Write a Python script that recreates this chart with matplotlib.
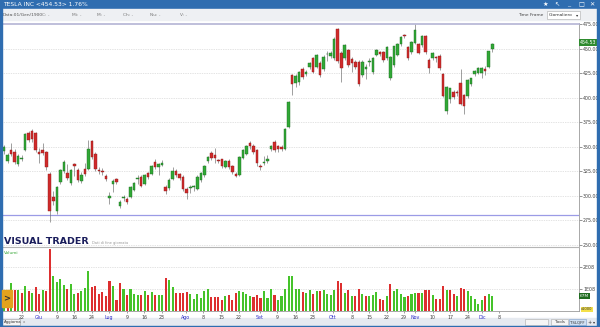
import matplotlib.pyplot as plt
from matplotlib.patches import Rectangle
import numpy as np

# Dati (una candela per seduta)
aperture = [346, 335, 347, 345, 332, 337, 347, 364, 366, 364, 345, 347, 345, 322, 299, 285, 314, 325, 323, 313,
            332, 326, 315, 327, 327, 356, 343, 326.5, 325, 320, 298, 312, 317, 290, 298, 297, 299, 306, 317, 319,
            312, 323, 322, 334, 329, 331, 309, 308, 317, 325, 322, 319.5, 307, 308, 309, 307, 316, 321, 335, 344,
            342, 336, 337, 329, 335.5, 330, 322, 321, 339, 343, 353.5, 351, 347, 330, 333, 335, 348, 355, 351, 350,
            348, 370, 423, 415, 416, 429, 424, 431, 440, 431.5, 435.5, 429, 444, 442.5, 440, 470, 445, 440, 448.5, 439,
            436.5, 436.5, 423, 429, 436.5, 426, 443.5, 446, 446, 440, 420, 433, 443.5, 454.5, 463.5, 452, 446, 456, 455, 454,
            463, 438.5, 440, 440.5, 442.5, 424, 386, 399, 406, 405.5, 414.5, 402.5, 402, 414, 424, 425.5, 425, 429.5, 431.5, 450]
massimi = [352, 344, 354, 348, 343, 342, 364, 366, 368, 365, 349, 354, 346, 324, 305, 310, 327, 336, 332, 327,
           333, 328, 324, 333, 357, 357, 345, 329, 328, 322, 304, 317, 318, 296, 301, 299, 310, 314, 321, 321,
           322, 324, 331, 338, 333, 336, 311, 318, 329, 327, 323, 321, 309, 311, 311, 321, 324, 331, 341, 346,
           349, 338, 338, 336, 337, 331, 324, 341, 348, 352, 356, 353, 348, 332, 341, 342, 352, 357, 352, 352,
           369, 397, 424, 424, 427, 431, 428, 436, 441, 444, 437, 443, 448, 447, 462, 471, 447, 455, 450, 441,
           438, 438, 438, 434, 440, 441, 450, 447, 447, 453, 442, 453, 456, 463, 465, 453, 458, 475, 456, 464,
           464, 440, 446, 442, 444, 425, 412, 410, 408, 408, 429, 404, 419, 420, 428, 431, 431, 432, 448, 456]
minimi = [343, 333, 341, 332, 330, 335, 346, 355, 355, 345, 333, 342, 326, 273, 291, 281, 312, 323, 316, 311,
          320, 314, 313, 320, 326, 338, 325, 322, 321, 315, 292, 304, 312, 288, 295, 292, 298, 305, 312, 309,
          311, 317, 321, 327, 321, 330, 302, 306, 316, 319, 316, 305, 297, 303, 305, 306, 314, 319, 333, 336,
          333, 333, 328, 328, 327, 322, 319, 320, 338, 342, 348, 343, 330, 326, 331, 333, 346, 345, 345, 346,
          347, 369, 403, 411, 413, 419, 422, 429, 425, 430, 421, 427, 437, 440, 438, 435, 416, 438, 431, 426,
          429, 412, 421, 419, 432, 424, 442, 442, 436, 438, 418, 431, 442, 453, 461, 438, 444, 455, 444, 452,
          444, 425, 438, 436, 428, 401, 383, 395, 399, 402, 393, 383, 400, 412, 422, 424, 420, 423, 430, 446]
chiusure = [350, 342, 343, 334, 341, 339, 363, 357, 358, 347, 343, 344, 329, 285, 295, 309, 326, 334, 318, 326,
            330, 316, 321, 322, 348, 340, 327, 325.5, 324, 317, 300, 315, 314, 294, 299, 294, 309, 313, 317.5, 310,
            321, 319, 330, 329, 332, 333, 305, 316, 325, 321, 318.5, 307, 303, 309, 309.5, 319.5, 323, 330, 340, 339,
            338.5, 335.5, 330, 335, 329, 324, 320, 340, 347, 351, 351, 345, 333, 329.5, 334, 338, 351, 347, 348, 348,
            368, 396, 414, 422, 426, 421, 426, 435, 426.5, 443, 423, 441.5, 444.5, 445, 460, 437, 430, 453.5, 433, 435,
            431.5, 414, 436.5, 431, 437.5, 440, 448.5, 444, 438.5, 452, 441, 452.5, 455, 462, 463, 440, 457, 469, 445, 463,
            446, 430, 445, 440, 430.5, 402, 411, 409.5, 401, 405, 394, 391, 418, 419.5, 427.5, 430, 430, 427, 447.5, 454.53]
volumi = [91, 86, 127, 97, 94, 82, 115, 91, 82, 111, 79, 94, 93, 280, 159, 130, 145, 118, 102, 124,
          79, 83, 91, 105, 184, 109, 115, 77, 88, 68, 138, 115, 52, 127, 98, 73, 98, 76, 74, 73,
          91, 71, 86, 71, 71, 73, 150, 142, 109, 82, 82, 82, 86, 76, 55, 76, 61, 89, 98, 64,
          64, 65, 52, 70, 71, 52, 80, 89, 85, 76, 70, 64, 73, 57, 89, 60, 100, 73, 52, 66,
          98, 159, 159, 98, 98, 86, 84, 94, 79, 90, 92, 97, 76, 71, 94, 135, 127, 83, 97, 67,
          67, 102, 76, 67, 67, 71, 86, 56, 48, 67, 121, 91, 101, 76, 64, 67, 76, 82, 83, 82,
          97, 97, 71, 53, 53, 114, 97, 94, 76, 67, 105, 98, 89, 67, 56, 30, 52, 67, 79, 67]

etichette_x = ['22', 'Giu', '9', '16', '24', 'Lug', '9', '16', '23', 'Ago', '8', '15', '22', 'Set',
               '9', '16', '23', 'Ott', '8', '15', '22', '29', 'Nov', '10', '17', '24', 'Dic', '8']
pos_etichette = [5.1, 10, 15.1, 19.9, 25, 29.9, 35, 39.9, 45, 51.8, 56.6, 61.8, 66.9, 72.9,
                 77.7, 83.1, 88, 93.6, 99.1, 103.9, 109, 113.9, 117, 122.1, 127, 132.1, 136.1, 140.9]
mesi = ['Giu', 'Lug', 'Ago', 'Set', 'Ott', 'Nov', 'Dic']
livelli_prezzo = [250, 275, 300, 325, 350, 375, 400, 425, 450, 475]
supporto = 280
ultimo = 454.53

W, H = 600, 327
fig = plt.figure(figsize=(6, 3.27), dpi=100)
fig.patch.set_facecolor('white')


def box(x0, y0, x1, y1, **kw):
    fig.add_artist(Rectangle((x0 / W, 1 - y1 / H), (x1 - x0) / W, (y1 - y0) / H,
                             transform=fig.transFigure, **kw))


def txt(x, y, s, **kw):
    fig.text(x / W, 1 - y / H, s, **kw)


# cornice della finestra
box(0, 0, 600, 9, color='#2f6db0', zorder=0)
box(0, 9, 600, 20, color='#eef0f3', zorder=0)
box(0, 0, 1.5, 327, color='#2f6db0', zorder=5)
box(597, 0, 600, 327, color='#2f6db0', zorder=5)
box(0, 318, 600, 327, color='#e6eaf0', zorder=0)
box(0, 325.5, 600, 327, color='#2f6db0', zorder=5)
txt(3, 4.8, 'TESLA INC <454.53> 1.76%', color='white', fontsize=4.3, va='center')
for xx, s in zip([545, 557, 569, 581, 592], ['★', '↖', '_', '□', '✕']):
    txt(xx, 4.8, s, color='white', fontsize=4.5, va='center', ha='center')
txt(2.5, 15, 'Data:01/Gen/1900', color='#555555', fontsize=3.2, va='center')
for xx, s in zip([42, 72, 97, 123, 150, 180], ['C: -', 'Mi: -', 'M: -', 'Ch: -', 'Nu: -', 'V: -']):
    txt(xx, 15, s, color='#777777', fontsize=3.2, va='center')
txt(518, 15, 'Time Frame', color='#444444', fontsize=3.2, va='center')
box(547, 11, 580, 19, facecolor='white', edgecolor='#aaaaaa', lw=0.4, zorder=1)
txt(549, 15, 'Giornaliero', color='#333333', fontsize=3.2, va='center')
txt(577, 15, '▾', color='#333333', fontsize=3.2, va='center', ha='center')

# pannello prezzi
ax = fig.add_axes([2 / W, 1 - 246.5 / H, 577 / W, 223 / H])
ax.set_xlim(-0.6, 163.7)
ax.set_ylim(248.4, 475.5)
for p in livelli_prezzo[:-1]:
    ax.axhline(p, color='#c8c8c8', lw=0.5, ls=(0, (1, 1.5)), zorder=0)
ax.axhline(supporto, color='#9b9be6', lw=0.9, zorder=1)

idx = np.arange(len(chiusure))
o = np.array(aperture, dtype=float)
c = np.array(chiusure, dtype=float)
su = c >= o
ax.vlines(idx, minimi, massimi, color='#6a6a6a', lw=0.45, zorder=2)
ax.bar(idx, np.maximum(np.abs(c - o), 0.9), bottom=np.minimum(o, c), width=0.72,
       color=np.where(su, '#31a836', '#d02a2a'), edgecolor=np.where(su, '#1d6b22', '#8c1c1c'),
       lw=0.3, zorder=3)

for s in ['left', 'bottom']:
    ax.spines[s].set_visible(False)
ax.spines['top'].set_color('#b4b4d4')
ax.spines['top'].set_linewidth(1.2)
ax.spines['right'].set_color('#9a9a9a')
ax.spines['right'].set_linewidth(0.6)
ax.set_xticks([])
ax.yaxis.tick_right()
ax.set_yticks(livelli_prezzo)
ax.set_yticklabels([f'{p:.2f}' for p in livelli_prezzo])
ax.tick_params(axis='y', labelsize=3.4, colors='#444444', length=2, width=0.4, pad=1)
ax.text(1.002, ultimo + 2, f'{ultimo:.2f}', transform=ax.get_yaxis_transform(), fontsize=3.4,
        color='white', va='center', ha='left',
        bbox=dict(boxstyle='square,pad=0.2', fc='#2e8b2e', ec='none'), zorder=6)

# logo
txt(4, 241.5, 'VISUAL TRADER', color='#1a1d5c', fontsize=6.8, fontweight='bold', va='center')
txt(92, 243, 'Dati di fine giornata', color='#999999', fontsize=2.6, va='center')
fig.add_artist(plt.Line2D([2 / W, 579 / W], [1 - 246.5 / H] * 2, color='#b5b5b5', lw=0.8,
                          transform=fig.transFigure))

# pannello volumi
axv = fig.add_axes([2 / W, 1 - 311 / H, 577 / W, 64 / H])
axv.set_xlim(-0.6, 163.7)
axv.set_ylim(0, 291)
for v in [100, 200]:
    axv.axhline(v, color='#c8c8c8', lw=0.5, ls=(0, (1, 1.5)), zorder=0)
prec = np.concatenate([[c[0]], c[:-1]])
axv.bar(idx, volumi, width=0.6, color=np.where(c >= prec, '#45c32a', '#dd2f2f'), zorder=2)
for s in ['left', 'top']:
    axv.spines[s].set_visible(False)
axv.spines['right'].set_color('#9a9a9a')
axv.spines['right'].set_linewidth(0.6)
axv.spines['bottom'].set_color('#9a9a9a')
axv.spines['bottom'].set_linewidth(0.6)
axv.yaxis.tick_right()
axv.set_yticks([100, 200])
axv.set_yticklabels(['1E08', '2E08'])
axv.tick_params(axis='y', labelsize=3.4, colors='#444444', length=2, width=0.4, pad=1)
axv.set_xticks(pos_etichette)
axv.set_xticklabels(etichette_x)
axv.tick_params(axis='x', labelsize=3.4, length=1.5, width=0.4, pad=1.2, colors='#555555')
for lab in axv.get_xticklabels():
    lab.set_color('#2b2bc8' if lab.get_text() in mesi else '#444444')
axv.text(0.003, 0.93, 'Volumi', transform=axv.transAxes, fontsize=3.2, color='#3aa83a', va='top')
axv.text(1.002, volumi[-1], f'{volumi[-1]:.0f}M', transform=axv.get_yaxis_transform(), fontsize=3.2,
         color='white', va='center', ha='left',
         bbox=dict(boxstyle='square,pad=0.2', fc='#1f6b1f', ec='none'), zorder=6)
axv.text(1.004, 8, 'x1000', transform=axv.get_yaxis_transform(), fontsize=2.6,
         color='#333333', va='center', ha='left',
         bbox=dict(boxstyle='square,pad=0.15', fc='#f4e04a', ec='none'), zorder=6)

# freccia laterale e barra inferiore
box(2, 290, 11.5, 307, color='#e3a21d', zorder=6)
txt(6.7, 298.5, '>', color='#333333', fontsize=6, fontweight='bold', va='center', ha='center', zorder=7)
box(2, 319, 20, 325, facecolor='#f5f5f5', edgecolor='#999999', lw=0.4, zorder=1)
txt(3.5, 322, 'Aggiorna', color='#333333', fontsize=2.8, va='center')
txt(22.5, 322, 'x', color='#777777', fontsize=2.8, va='center')
box(525, 319, 548, 325, facecolor='#f5f5f5', edgecolor='#aaaaaa', lw=0.4, zorder=1)
box(551, 319, 568, 325, facecolor='#f5f5f5', edgecolor='#aaaaaa', lw=0.4, zorder=1)
txt(559.5, 322, 'Tools', color='#333333', fontsize=2.8, va='center', ha='center')
box(569, 319, 586, 325, facecolor='#cfe0f3', edgecolor='#7a9cc8', lw=0.4, zorder=1)
txt(577.5, 322, 'TSLQFF', color='#333333', fontsize=2.8, va='center', ha='center')
txt(589.5, 322, '+', color='#333333', fontsize=3.5, va='center', ha='center')
txt(594.5, 322, '▾', color='#333333', fontsize=3, va='center', ha='center')

plt.savefig('out.png', dpi=100)
plt.close()
